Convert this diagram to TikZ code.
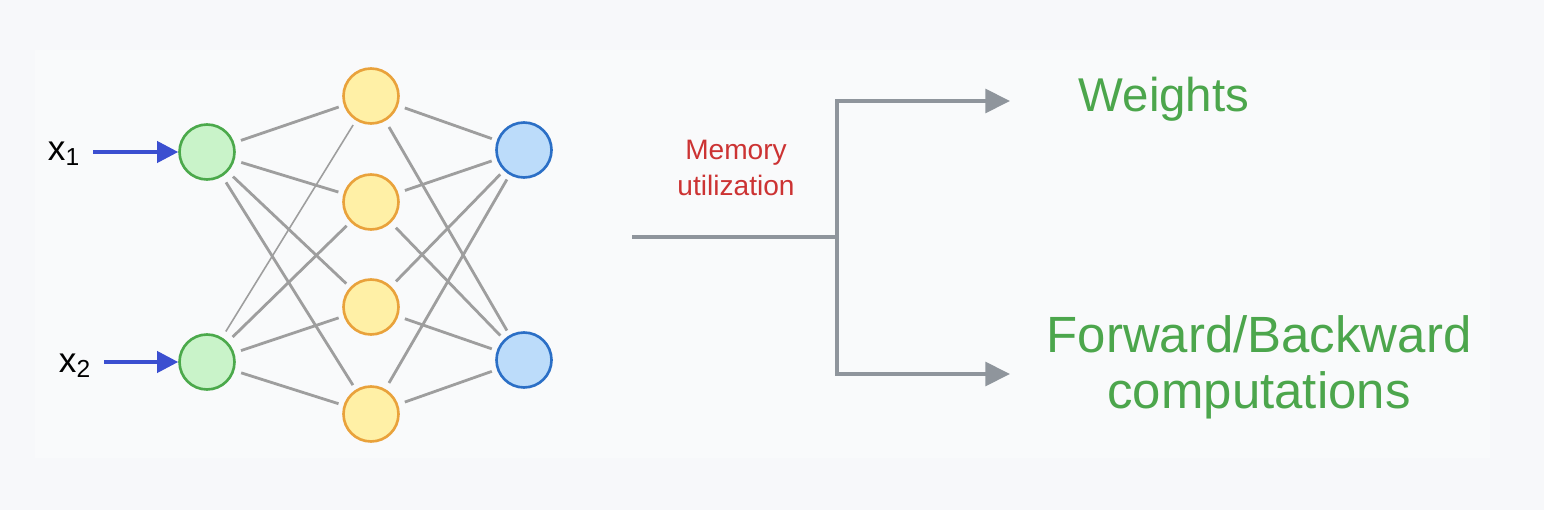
\documentclass[tikz,border=0pt]{standalone}
\usepackage{fontspec}
\setmainfont{Liberation Sans}
\usepackage{tikz}
\usetikzlibrary{arrows.meta}
\definecolor{bgcol}{HTML}{F7F8FA}
\definecolor{panelcol}{HTML}{F9FAFB}
\definecolor{linecol}{HTML}{9E9E9E}
\definecolor{splitcol}{HTML}{8F959C}
\definecolor{arrowblue}{HTML}{3B4FD0}
\definecolor{textgreen}{HTML}{4CA64C}
\definecolor{textred}{HTML}{CC3333}
\definecolor{greenline}{HTML}{4BA94B}
\definecolor{greenfill}{HTML}{C9F3C9}
\definecolor{yellowline}{HTML}{E9A23B}
\definecolor{yellowfill}{HTML}{FFF0A6}
\definecolor{blueline}{HTML}{2B6FC6}
\definecolor{bluefill}{HTML}{BCDCFA}
\tikzstyle{inputnode} = [circle, minimum size=1.1cm, line width=1.5pt, draw=greenline, fill=greenfill]
\tikzstyle{hiddennode} = [circle, minimum size=1.1cm, line width=1.5pt, draw=yellowline, fill=yellowfill]
\tikzstyle{outputnode} = [circle, minimum size=1.1cm, line width=1.5pt, draw=blueline, fill=bluefill]
\tikzstyle{xlabel} = [font=\fontsize{20}{24}\selectfont, anchor=base]
\tikzstyle{edge} = [draw=linecol, line width=1.6pt, shorten >=3pt, shorten <=4pt]
\tikzstyle{inarrow} = [draw=arrowblue, line width=2.2pt, shorten <=4pt, -{Triangle[length=12pt,width=12pt]}]
\tikzstyle{arrow} = [draw=splitcol, line width=2pt, -{Triangle[length=14pt,width=13.5pt]}]
\tikzstyle{biglabel} = [text=textgreen, font=\fontsize{27}{32}\selectfont, align=center]

\begin{document}
\begin{tikzpicture}[x=0.02cm, y=-0.02cm]
\useasboundingbox (0,0) rectangle (1544,510);
\fill [bgcol] (0,0) rectangle (1544,510);
\fill [panelcol] (35,50) rectangle (1490,458);

\node (in1)  [inputnode] at (207,152) {};
\node (in2)  [inputnode] at (207,362) {};
\node (hid1) [hiddennode] at (371,96) {};
\node (hid2) [hiddennode] at (371,202) {};
\node (hid3) [hiddennode] at (371,307) {};
\node (hid4) [hiddennode] at (371,414) {};
\node (out1) [outputnode] at (524,150) {};
\node (out2) [outputnode] at (524,360) {};
\node (x1) [xlabel] at (64,160) {x\textsubscript{1}};
\node (x2) [xlabel] at (75,372) {x\textsubscript{2}};

\draw [inarrow] (x1.east |- in1) -- (in1);
\draw [inarrow] (x2.east |- in2) -- (in2);

\draw [edge] (in1) -- (hid1);
\draw [edge] (in1) -- (hid2);
\draw [edge] (in1) -- (hid3);
\draw [edge] (in1) -- (hid4);
\draw [edge, line width=0.9pt] (in2) -- (hid1);
\draw [edge] (in2) -- (hid2);
\draw [edge] (in2) -- (hid3);
\draw [edge] (in2) -- (hid4);
\draw [edge] (hid1) -- (out1);
\draw [edge] (hid1) -- (out2);
\draw [edge] (hid2) -- (out1);
\draw [edge] (hid2) -- (out2);
\draw [edge] (hid3) -- (out1);
\draw [edge] (hid3) -- (out2);
\draw [edge] (hid4) -- (out1);
\draw [edge] (hid4) -- (out2);

% memory split
\coordinate (src) at (632,237);
\coordinate (split) at (837,237);
\coordinate (wtip) at (1010,101);
\coordinate (ftip) at (1010,374);
\node (mem) [text=textred, font=\fontsize{16}{20}\selectfont, align=center] at (736,168) {Memory\\utilization};
\node (wts) [biglabel, anchor=base] at (1164,112) {Weights};
\node (fwd) [biglabel, font=\fontsize{29}{32}\selectfont] at (1259,367) {Forward/Backward\\computations};

\draw [draw=splitcol, line width=2pt] (src) -- (split);
\draw [arrow] (split) |- (wtip);
\draw [arrow] (split) |- (ftip);
\end{tikzpicture}
\end{document}
